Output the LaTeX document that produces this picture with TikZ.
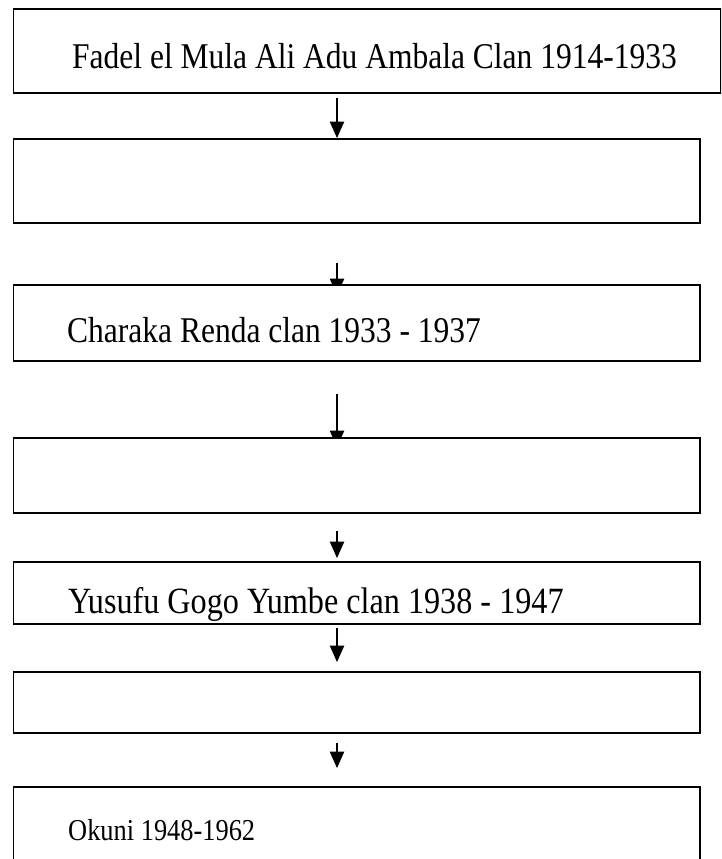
\documentclass[tikz,border=0pt]{standalone}
\usepackage{fontspec}
\setmainfont{Liberation Serif}
\usetikzlibrary{arrows.meta,backgrounds}
\newcommand{\tallt}[1]{\scalebox{1}[1.15]{#1}}
\begin{document}
\begin{tikzpicture}[x=1pt,y=-1pt,
  box/.style={draw=black,line width=1.8pt,fill=white,rectangle,inner sep=0pt,anchor=north west,minimum width=686.5pt},
  lbl/.style={anchor=base west,inner sep=0pt,font=\fontsize{31.5}{38}\selectfont},
  smalllbl/.style={anchor=base west,inner sep=0pt,font=\fontsize{26.4}{31}\selectfont},
  arr/.style={draw=black,line width=1.1pt,-{Triangle[width=14.5pt,length=16.5pt]}}]
\useasboundingbox (0,0) rectangle (721,859);
\clip (0,0) rectangle (721,859);
\coordinate (xa) at (337,0);
\node[box,minimum width=707.5pt,minimum height=84pt] (b1) at (12.5,8) {};
\node[box,minimum height=84pt] (b2) at (12.5,138) {};
\node[box,minimum height=76pt] (b3) at (12.5,284) {};
\node[box,minimum height=75pt] (b4) at (12.5,437) {};
\node[box,minimum height=62pt] (b5) at (12.5,561) {};
\node[box,minimum height=61pt] (b6) at (12.5,671) {};
\node[box,minimum height=100pt] (b7) at (12.5,786) {};
\node[lbl] (t1) at (72,69) {\tallt{Fadel el Mula Ali Adu Ambala Clan 1914-1933}};
\node[lbl] (t3) at (67,342) {\tallt{Charaka Renda clan 1933 - 1937}};
\node[lbl,font=\fontsize{32.2}{38}\selectfont] (t5) at (68,613) {\tallt{Yusufu Gogo Yumbe clan 1938 - 1947}};
\node[smalllbl] (t7) at (68,840) {\tallt{Okuni 1948-1962}};
\begin{scope}[on background layer]
\draw[arr] ([yshift=-4pt]b1.south -| xa) -- (b2.north -| xa);
\draw[arr] ([yshift=-39pt]b2.south -| xa) -- ([yshift=-11pt]b3.north -| xa);
\draw[arr] ([yshift=-32pt]b3.south -| xa) -- ([yshift=-10pt]b4.north -| xa);
\draw[arr] ([yshift=-17pt]b4.south -| xa) -- ([yshift=3pt]b5.north -| xa);
\draw[arr] ([yshift=-3pt]b5.south -| xa) -- ([yshift=9pt]b6.north -| xa);
\draw[arr] ([yshift=-9pt]b6.south -| xa) -- ([yshift=18pt]b7.north -| xa);
\end{scope}
\end{tikzpicture}
\end{document}
